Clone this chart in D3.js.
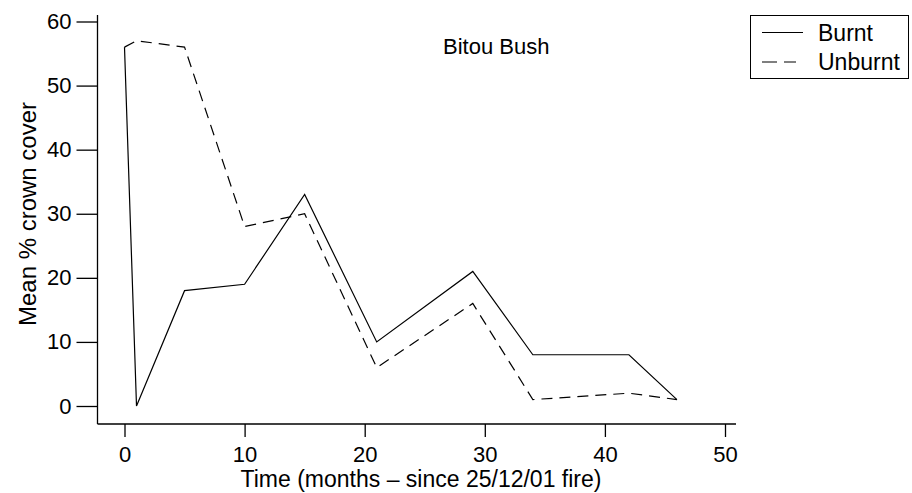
<!DOCTYPE html>
<html>
<head>
<meta charset="utf-8">
<script src="https://cdn.jsdelivr.net/npm/d3@7"></script>
<style>
  html, body { margin: 0; padding: 0; background: #fff; }
  svg { display: block; font-family: "Liberation Sans", Arial, sans-serif; }
</style>
</head>
<body>
<div id="chart"></div>
<script>
// data
const months = [0, 1, 5, 10, 15, 21, 29, 34, 42, 46];
const burnt = [56, 0, 18, 19, 33, 10, 21, 8, 8, 1];
const unburnt = [56, 57, 56, 28, 30, 6, 16, 1, 2, 1];
const xTicks = [0, 10, 20, 30, 40, 50];
const yTicks = [0, 10, 20, 30, 40, 50, 60];

const width = 912, height = 493;

const svg = d3.select("#chart").append("svg")
    .attr("width", width)
    .attr("height", height);

// scales
const x = d3.scaleLinear().domain([0, 50]).range([124.5, 725]);
const y = d3.scaleLinear().domain([0, 60]).range([406, 21.5]);

// axes lines (L shape)
svg.append("line")
    .attr("x1", 97.5).attr("x2", 97.5)
    .attr("y1", 15).attr("y2", 424)
    .attr("stroke", "#000").attr("stroke-width", 1.3);
svg.append("line")
    .attr("x1", 97.5).attr("x2", 736)
    .attr("y1", 424).attr("y2", 424)
    .attr("stroke", "#000").attr("stroke-width", 1.3);

// x axis ticks
const xAxis = svg.append("g")
    .attr("transform", "translate(0,424)")
    .call(d3.axisBottom(x).tickValues(xTicks).tickSize(13).tickPadding(9).tickSizeOuter(0));
xAxis.select(".domain").remove();

// y axis ticks
const yAxis = svg.append("g")
    .attr("transform", "translate(97.5,0)")
    .call(d3.axisLeft(y).tickValues(yTicks).tickSize(21).tickPadding(5).tickSizeOuter(0));
yAxis.select(".domain").remove();

svg.selectAll(".tick line").attr("stroke", "#000").attr("stroke-width", 1.3);
svg.selectAll(".tick text")
    .attr("fill", "#000")
    .style("font-size", "22px")
    .style("font-family", "'Liberation Sans', Arial, sans-serif");

// lines
const line = d3.line()
    .x((d, i) => x(months[i]))
    .y(d => y(d));

svg.append("path")
    .datum(burnt)
    .attr("d", line)
    .attr("fill", "none")
    .attr("stroke", "#000")
    .attr("stroke-width", 1.2);

svg.append("path")
    .datum(unburnt)
    .attr("d", line)
    .attr("fill", "none")
    .attr("stroke", "#000")
    .attr("stroke-width", 1.2)
    .attr("stroke-dasharray", "11,7");

// title
svg.append("text")
    .attr("x", 443)
    .attr("y", 54)
    .attr("text-anchor", "start")
    .style("font-size", "22px")
    .text("Bitou Bush");

// axis titles
svg.append("text")
    .attr("x", 421)
    .attr("y", 487)
    .attr("text-anchor", "middle")
    .style("font-size", "23px")
    .text("Time (months \u2013 since 25/12/01 fire)");

svg.append("text")
    .attr("transform", "translate(36,214) rotate(-90)")
    .attr("text-anchor", "middle")
    .style("font-size", "24px")
    .text("Mean % crown cover");

// legend
const legend = svg.append("g");
legend.append("rect")
    .attr("x", 750.5).attr("y", 15.5)
    .attr("width", 158).attr("height", 63)
    .attr("fill", "#fff")
    .attr("stroke", "#000")
    .attr("stroke-width", 1);

const legendItems = [
    { name: "Burnt", dash: null, y: 32.5, x2: 803 },
    { name: "Unburnt", dash: "15,7", y: 62, x2: 796 }
];
legendItems.forEach(item => {
    legend.append("line")
        .attr("x1", 762).attr("x2", item.x2)
        .attr("y1", item.y).attr("y2", item.y)
        .attr("stroke", "#000")
        .attr("stroke-width", 1.2)
        .attr("stroke-dasharray", item.dash);
    legend.append("text")
        .attr("x", 818)
        .attr("y", item.y + 8)
        .style("font-size", "23px")
        .text(item.name);
});
</script>
</body>
</html>
